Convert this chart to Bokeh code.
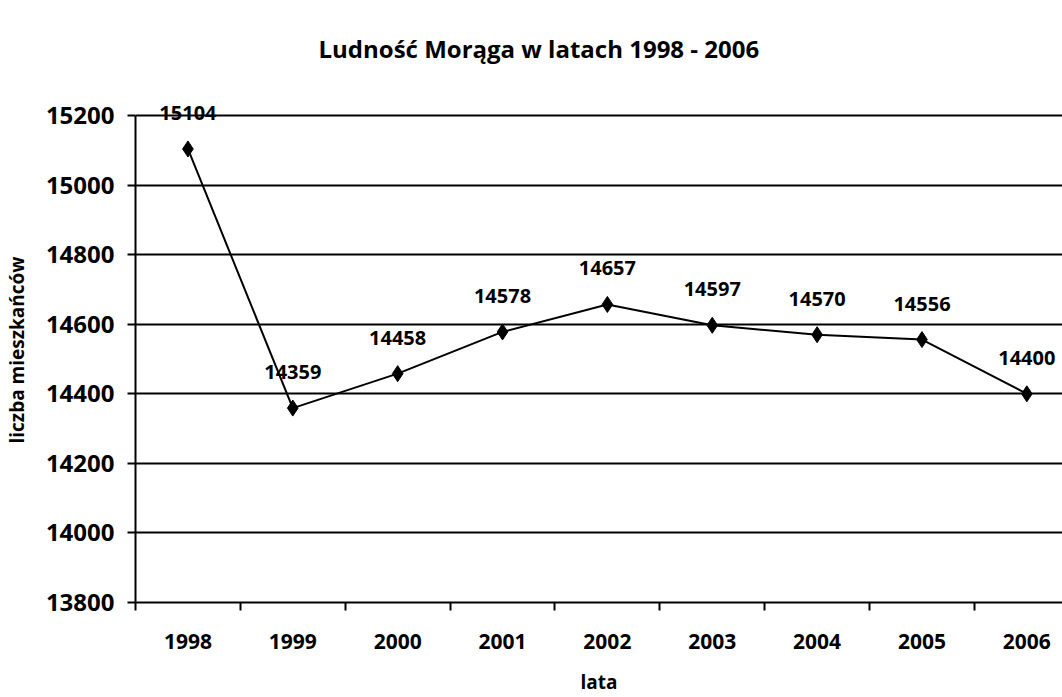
from bokeh.plotting import figure
from bokeh.models import Range1d, FixedTicker, ColumnDataSource, LabelSet, Title
from bokeh.core.properties import value
from bokeh.embed import file_html
from bokeh.resources import INLINE

years = ["1998", "1999", "2000", "2001", "2002", "2003", "2004", "2005", "2006"]
population = [15104, 14359, 14458, 14578, 14657, 14597, 14570, 14556, 14400]
y_ticks = [13800, 14000, 14200, 14400, 14600, 14800, 15000, 15200]

FONT = "Open Sans"

idx = list(range(len(years)))
src = ColumnDataSource(dict(x=idx, y=population, lab=[str(v) for v in population]))

p = figure(width=1062, height=697, output_backend="svg", toolbar_location=None,
           x_range=Range1d(-0.5, 8.34), y_range=Range1d(13800, 15252),
           min_border_left=130, min_border_right=0, min_border_top=97, min_border_bottom=94)
p.outline_line_color = None
p.background_fill_color = "white"
p.border_fill_color = "white"

p.add_layout(Title(text="Ludność Morąga w latach 1998 - 2006", align="left", offset=183,
                   vertical_align="top",
                   text_font=FONT, text_font_size="24px", text_font_style="bold",
                   text_color="black", standoff=62), "above")

# x axis
p.xaxis.ticker = FixedTicker(ticks=idx, minor_ticks=[i - 0.5 for i in idx])
p.xaxis.major_label_overrides = {i: y for i, y in zip(idx, years)}
p.xaxis.major_tick_line_color = None
p.xaxis.major_tick_out = 8
p.xaxis.major_tick_in = 0
p.xaxis.minor_tick_line_color = "black"
p.xaxis.minor_tick_line_width = 2
p.xaxis.minor_tick_out = 8
p.xaxis.minor_tick_in = 0
p.xaxis.axis_line_color = "black"
p.xaxis.axis_line_width = 2
p.xaxis.major_label_standoff = 23
p.xaxis.major_label_text_font = FONT
p.xaxis.major_label_text_font_size = "21px"
p.xaxis.major_label_text_font_style = "bold"
p.xaxis.major_label_text_color = "black"
p.xaxis.axis_label = "lata"
p.xaxis.axis_label_text_font = FONT
p.xaxis.axis_label_text_font_size = "19px"
p.xaxis.axis_label_text_font_style = "bold"
p.xaxis.axis_label_text_color = "black"
p.xaxis.axis_label_standoff = 17

# y axis
p.yaxis.ticker = FixedTicker(ticks=y_ticks)
p.yaxis.bounds = (13800, 15200)
p.yaxis.major_tick_line_color = "black"
p.yaxis.major_tick_line_width = 2
p.yaxis.major_tick_out = 8
p.yaxis.major_tick_in = 0
p.yaxis.minor_tick_line_color = None
p.yaxis.axis_line_color = "black"
p.yaxis.axis_line_width = 2
p.yaxis.major_label_standoff = 13
p.yaxis.major_label_text_font = FONT
p.yaxis.major_label_text_font_size = "24px"
p.yaxis.major_label_text_font_style = "bold"
p.yaxis.major_label_text_color = "black"
p.yaxis.axis_label = "liczba mieszkańców"
p.yaxis.axis_label_text_font = FONT
p.yaxis.axis_label_text_font_size = "19px"
p.yaxis.axis_label_text_font_style = "bold"
p.yaxis.axis_label_text_color = "black"
p.yaxis.axis_label_standoff = 13

p.xgrid.grid_line_color = None
p.ygrid.ticker = FixedTicker(ticks=y_ticks)
p.ygrid.grid_line_color = "black"
p.ygrid.grid_line_width = 2

p.line("x", "y", source=src, line_color="black", line_width=2)
p.scatter("x", "y", source=src, marker="diamond", size=16, fill_color="black", line_color="black")

labels = LabelSet(x="x", y="y", text="lab", source=src, text_align="center",
                  text_baseline="bottom", y_offset=29, text_font=value(FONT),
                  text_font_size=value("20px"), text_font_style="bold", text_color="black")
p.add_layout(labels)

open("out.html", "w").write(file_html(p, INLINE))
